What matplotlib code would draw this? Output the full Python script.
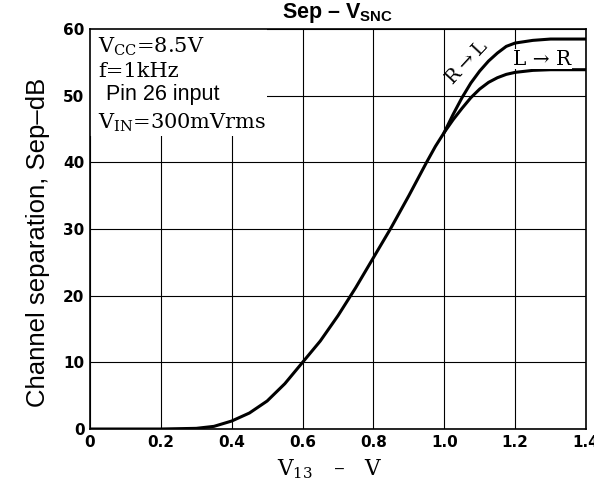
import matplotlib
matplotlib.use("Agg")
import matplotlib.pyplot as plt
from matplotlib.patches import Rectangle

plt.rcParams['mathtext.fontset'] = 'custom'
plt.rcParams['mathtext.rm'] = 'DejaVu Serif'
plt.rcParams['mathtext.bf'] = 'Liberation Sans:bold'
plt.rcParams['mathtext.sf'] = 'Liberation Sans'

# ---- data ----
x_common = [0.0, 0.1, 0.2, 0.3, 0.35, 0.4, 0.45, 0.5, 0.55, 0.6, 0.65, 0.7,
            0.75, 0.8, 0.85, 0.9, 0.95, 0.975, 1.0]
y_common = [0.0, 0.0, 0.0, 0.1, 0.4, 1.2, 2.4, 4.2, 6.8, 10.0, 13.2, 17.0,
            21.2, 25.7, 30.2, 35.0, 40.0, 42.4, 44.5]

x_tail = [1.0, 1.025, 1.05, 1.075, 1.1, 1.125, 1.15, 1.175, 1.2, 1.25, 1.3, 1.4]
y_r_to_l = [44.5, 47.2, 49.7, 51.9, 53.7, 55.2, 56.4, 57.4, 57.9, 58.3, 58.5, 58.5]
y_l_to_r = [44.5, 46.4, 48.1, 49.7, 51.0, 52.0, 52.7, 53.2, 53.5, 53.8, 53.9, 53.9]

x_ticks = [0, 0.2, 0.4, 0.6, 0.8, 1.0, 1.2, 1.4]
x_ticklabels = ['0', '0.2', '0.4', '0.6', '0.8', '1.0', '1.2', '1.4']
y_ticks = [0, 10, 20, 30, 40, 50, 60]
y_ticklabels = ['0', '10', '20', '30', '40', '50', '60']

conditions = [r'$\mathrm{V_{CC}}$=8.5V', 'f=1kHz', 'Pin 26 input',
              r'$\mathrm{V_{IN}}$=300mVrms']

fig = plt.figure(figsize=(5.94, 4.84), dpi=100)
ax = fig.add_axes([0.1515, 0.1136, 0.835, 0.8264])

ax.set_xlim(0, 1.4)
ax.set_ylim(0, 60)
ax.set_axisbelow(True)
ax.grid(True, color='black', linewidth=0.8)

for s in ax.spines.values():
    s.set_linewidth(1.2)
    s.set_color('black')

ax.set_xticks(x_ticks)
ax.set_xticklabels(x_ticklabels)
ax.set_yticks(y_ticks)
ax.set_yticklabels(y_ticklabels)
ax.tick_params(length=0, pad=4, labelsize=11)
for lab in ax.get_xticklabels() + ax.get_yticklabels():
    lab.set_fontweight('bold')
    lab.set_family('DejaVu Sans')

# white block behind the condition texts (hides grid there)
ax.add_patch(Rectangle((0, 44.0), 0.5, 16, facecolor='white',
                       edgecolor='none', zorder=1))

ax.plot(x_common, y_common, color='black', lw=2.2, zorder=3,
        solid_capstyle='round', solid_joinstyle='round')
ax.plot(x_tail, y_r_to_l, color='black', lw=2.2, zorder=3,
        solid_capstyle='round', solid_joinstyle='round')
ax.plot(x_tail, y_l_to_r, color='black', lw=2.2, zorder=3,
        solid_capstyle='round', solid_joinstyle='round')

serif = ['DejaVu Serif', 'DejaVu Sans']
ax.text(0.022, 56.5, conditions[0], family=serif, fontsize=15,
        va='baseline', ha='left', zorder=4)
ax.text(0.022, 52.8, conditions[1], family=serif, fontsize=15,
        va='baseline', ha='left', zorder=4)
ax.text(0.044, 49.3, conditions[2], family='Liberation Sans', fontsize=15.5,
        va='baseline', ha='left', zorder=4)
ax.text(0.022, 45.1, conditions[3], family=serif, fontsize=15,
        va='baseline', ha='left', zorder=4)

ax.text(1.064, 55.0, 'R\u2009\u2192\u2009L', family=serif, fontsize=14, rotation=47,
        ha='center', va='center', rotation_mode='anchor', zorder=4)
ax.text(1.277, 55.5, 'L \u2192 R', family=serif, fontsize=14.5,
        ha='center', va='center', zorder=4,
        bbox=dict(facecolor='white', edgecolor='none', pad=0.5))

ax.set_title('Sep \u2013 ' + r'$\mathbf{V_{SNC}}$', family='Liberation Sans',
             fontweight='bold', fontsize=15.5, pad=8.0)
ax.set_xlabel(r'$\mathrm{V_{13}}$   ' + '\u2013   V', family=serif, fontsize=15.5)
ax.xaxis.set_label_coords(0.483, -0.07)
ax.set_ylabel('Channel separation, Sep\u2013dB', family='Liberation Sans',
              fontsize=18.5, va='center')
ax.yaxis.set_label_coords(-0.105, 0.4675)

fig.savefig('out.png', dpi=100)
